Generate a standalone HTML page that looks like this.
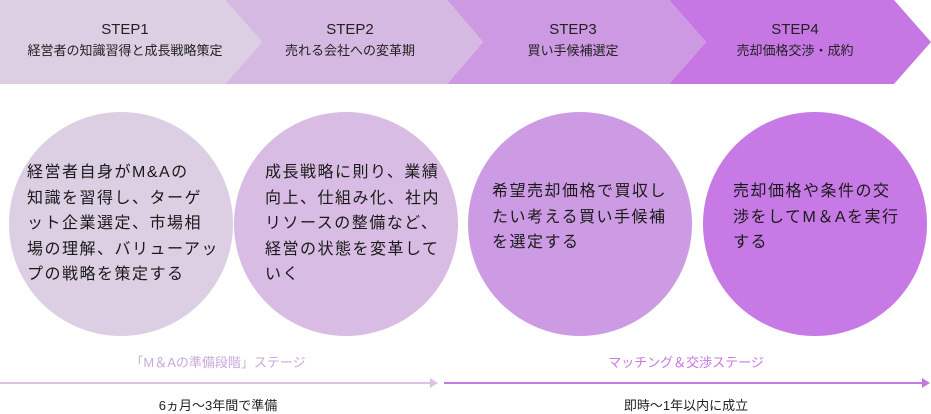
<!DOCTYPE html>
<html><head><meta charset="utf-8"><style>
body{margin:0;width:931px;height:411px;background:#fff;position:relative;overflow:hidden;font-family:"Liberation Sans","Noto Sans CJK JP",sans-serif;color:#222}
.st{position:absolute;top:0;height:84px;text-align:center;font-size:13px;line-height:20px}
.st b{display:block;font-weight:normal;font-size:15px;padding-top:19px;line-height:22px}
.c{position:absolute;top:112px;width:224px;height:224px;border-radius:50%}
.t{position:absolute;font-size:16px;letter-spacing:1.5px;line-height:25.5px;white-space:nowrap;color:#1a1a1a}
.lab{position:absolute;top:352px;font-size:13px;text-align:center}
.bt{position:absolute;top:395px;font-size:13px;text-align:center}
</style></head><body>
<svg width="931" height="84" style="position:absolute;left:0;top:0">
<polygon points="669,0 894,0 931,42 894,84 669,84 706,42" fill="#c677e4"/>
<polygon points="447,0 669,0 706,42 669,84 447,84 483,42" fill="#cc99e2"/>
<polygon points="225,0 447,0 483,42 447,84 225,84 262,42" fill="#d6b9e2"/>
<polygon points="0,0 225,0 262,42 225,84 0,84" fill="#dccee3"/>
</svg>
<div class="st" style="left:0;width:250px"><b>STEP1</b>経営者の知識習得と成長戦略策定</div>
<div class="st" style="left:235px;width:230px"><b>STEP2</b>売れる会社への変革期</div>
<div class="st" style="left:458px;width:230px"><b>STEP3</b>買い手候補選定</div>
<div class="st" style="left:680px;width:230px"><b>STEP4</b>売却価格交渉・成約</div>
<div class="c" style="left:9px;background:#dccee3"></div>
<div class="c" style="left:234px;background:#d8bce3"></div>
<div class="c" style="left:468px;background:#cd9be3"></div>
<div class="c" style="left:703px;background:#c779e5"></div>
<div class="t" style="left:27px;top:160px">経営者自身がM&amp;Aの<br>知識を習得し、ターゲ<br>ット企業選定、市場相<br>場の理解、バリューアッ<br>プの戦略を策定する</div>
<div class="t" style="left:265px;top:160px">成長戦略に則り、業績<br>向上、仕組み化、社内<br>リソースの整備など、<br>経営の状態を変革して<br>いく</div>
<div class="t" style="left:492px;top:179px">希望売却価格で買収し<br>たい考える買い手候補<br>を選定する</div>
<div class="t" style="left:733px;top:179px">売却価格や条件の交<br>渉をしてM＆Aを実行<br>する</div>
<div class="lab" style="left:0;width:436px;color:#c9a9dc">「M＆Aの準備段階」ステージ</div>
<div class="lab" style="left:444px;width:484px;color:#c677e4">マッチング＆交渉ステージ</div>
<svg width="931" height="20" style="position:absolute;left:0;top:374px">
<line x1="0" y1="9" x2="432" y2="9" stroke="#dcc3e6" stroke-width="2"/>
<polygon points="430,4 438,9 430,14" fill="#dcc3e6"/>
<line x1="444" y1="9" x2="925" y2="9" stroke="#c677e4" stroke-width="2"/>
<polygon points="922,4 930,9 922,14" fill="#c677e4"/>
</svg>
<div class="bt" style="left:0;width:436px">6ヵ月〜3年間で準備</div>
<div class="bt" style="left:444px;width:484px">即時〜1年以内に成立</div>
</body></html>
